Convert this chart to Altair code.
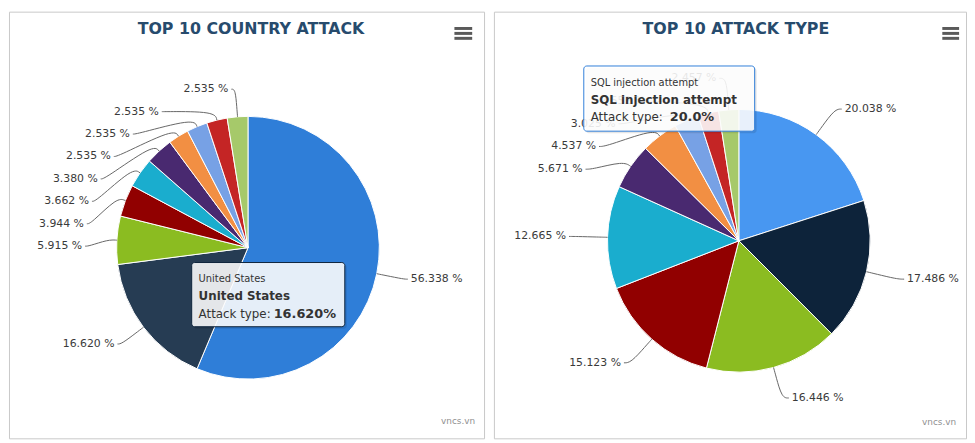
import math
import altair as alt
import pandas as pd

# ---------------- data ----------------
country_names = ["Country 1", "United States", "Country 3", "Country 4", "Country 5",
                 "Country 6", "Country 7", "Country 8", "Country 9", "Country 10"]
country_share = [56.338, 16.620, 5.915, 3.944, 3.662, 3.380, 2.535, 2.535, 2.535, 2.535]

attack_names = ["SQL injection attempt", "Attack 2", "Attack 3", "Attack 4", "Attack 5",
                "Attack 6", "Attack 7", "Attack 8", "Attack 9", "Attack 10"]
attack_share = [20.038, 17.486, 16.446, 15.123, 12.665, 5.671, 4.537, 3.025, 2.552, 2.457]

titles = ["TOP 10 COUNTRY ATTACK", "TOP 10 ATTACK TYPE"]
tip_left = ["United States", "United States", "Attack type: ", "16.620%"]
tip_right = ["SQL injection attempt", "SQL injection attempt", "Attack type: ", "20.0%"]
credit = "vncs.vn"

palette = ["#2f7ed8", "#0d233a", "#8bbc21", "#910000", "#1aadce",
           "#492970", "#f28f43", "#77a1e5", "#c42525", "#a6c96a"]
colors_left = list(palette)
colors_left[1] = "#263c53"     # hovered slice (brightened)
colors_right = list(palette)
colors_right[0] = "#4897f1"    # hovered slice (brightened)

# ---------------- layout ----------------
H = 432
W_LEFT, W_RIGHT = 481, 478
FONT = "DejaVu Sans"


def xq(W, field="x"):
    return alt.X(f"{field}:Q", scale=alt.Scale(domain=[0, W], nice=False, zero=False), axis=None)


def yq(field="y"):
    return alt.Y(f"{field}:Q", scale=alt.Scale(domain=[0, H], nice=False, zero=False, reverse=True),
                 axis=None)


def label_layout(values, cx, cy, r, dist, gap, spacing):
    total = sum(values)
    R = r + dist
    pts = []
    cum = 0.0
    for i, v in enumerate(values):
        a = (cum + v / 2.0) / total * 2 * math.pi
        cum += v
        s, c = math.sin(a), math.cos(a)
        pts.append(dict(i=i, left=s < 0, ny=cy - R * c,
                        ex=cx + r * s, ey=cy - r * c,
                        bx=cx + (r + 9) * s, by=cy - (r + 9) * c,
                        text=f"{v:.3f} %"))
    for side in (True, False):
        group = sorted([p for p in pts if p["left"] == side], key=lambda p: p["ny"])
        prev = -1e9
        for p in group:
            p["ly"] = max(p["ny"], prev + spacing)
            prev = p["ly"]
    for p in pts:
        dy = p["ly"] - cy
        dx = math.sqrt(max(0.0, R * R - dy * dy))
        sign = -1 if p["left"] else 1
        p["ax"] = cx + sign * dx
        p["tx"] = p["ax"] + sign * gap
        p["px"] = p["ax"] + sign * (gap - 3)
    return pts


def panel(names, values, colors, title, tip, W, geo, tipgeo, burger_x, credit_xy):
    cx, cy, r, dist, gap, spacing = geo
    slices = pd.DataFrame({"name": names, "value": values, "idx": list(range(len(values)))})
    arcs = alt.Chart(slices).mark_arc(outerRadius=r, stroke="white", strokeWidth=1).encode(
        theta=alt.Theta("value:Q", stack=True),
        color=alt.Color("name:N", scale=alt.Scale(domain=names, range=colors), legend=None),
        order=alt.Order("idx:Q"),
        x=alt.value(cx), y=alt.value(cy),
    )

    pts = label_layout(values, cx, cy, r, dist, gap, spacing)
    conn_rows = []
    for p in pts:
        seq = [(p["px"], p["ly"]), (p["ax"], p["ly"]), (p["bx"], p["by"]), (p["ex"], p["ey"])]
        for k, (x, y) in enumerate(seq):
            conn_rows.append({"id": p["i"], "k": k, "x": x, "y": y})
    conn = alt.Chart(pd.DataFrame(conn_rows)).mark_line(
        interpolate="basis", color="#666666", strokeWidth=1).encode(
        x=xq(W), y=yq(), detail="id:N", order="k:Q")

    lab_df = pd.DataFrame([{"x": p["tx"], "y": p["ly"], "t": p["text"], "left": p["left"]} for p in pts])
    lab_l = alt.Chart(lab_df[lab_df["left"]]).mark_text(
        align="right", baseline="middle", font=FONT, fontSize=11, color="#3a3a3a").encode(
        x=xq(W), y=yq(), text="t:N")
    lab_r = alt.Chart(lab_df[~lab_df["left"]]).mark_text(
        align="left", baseline="middle", font=FONT, fontSize=11, color="#3a3a3a").encode(
        x=xq(W), y=yq(), text="t:N")

    # tooltip overlay
    tx0, tx1, ty0, ty1, tborder, val_x = tipgeo
    shadow = alt.Chart(pd.DataFrame({"x": [tx0 + 2], "x2": [tx1 + 2], "y": [ty0 + 2], "y2": [ty1 + 2]})).mark_rect(
        cornerRadius=3, color="#000000", opacity=0.10).encode(
        x=xq(W), x2="x2:Q", y=yq(), y2="y2:Q")
    box = alt.Chart(pd.DataFrame({"x": [tx0], "x2": [tx1], "y": [ty0], "y2": [ty1]})).mark_rect(
        cornerRadius=3, fill="#ffffff", fillOpacity=0.88, stroke=tborder, strokeWidth=1).encode(
        x=xq(W), x2="x2:Q", y=yq(), y2="y2:Q")
    lx = tx0 + 7
    t1 = alt.Chart(pd.DataFrame({"x": [lx], "y": [ty0 + 17], "t": [tip[0]]})).mark_text(
        align="left", baseline="middle", font=FONT, fontSize=10, color="#333333").encode(
        x=xq(W), y=yq(), text="t:N")
    t2 = alt.Chart(pd.DataFrame({"x": [lx], "y": [ty0 + 34], "t": [tip[1]]})).mark_text(
        align="left", baseline="middle", font=FONT, fontSize=12, fontWeight="bold", color="#333333").encode(
        x=xq(W), y=yq(), text="t:N")
    t3 = alt.Chart(pd.DataFrame({"x": [lx], "y": [ty0 + 52], "t": [tip[2]]})).mark_text(
        align="left", baseline="middle", font=FONT, fontSize=12, color="#333333").encode(
        x=xq(W), y=yq(), text="t:N")
    t4 = alt.Chart(pd.DataFrame({"x": [val_x], "y": [ty0 + 52], "t": [tip[3]]})).mark_text(
        align="left", baseline="middle", font=FONT, fontSize=13, fontWeight="bold", color="#333333").encode(
        x=xq(W), y=yq(), text="t:N")

    ttl = alt.Chart(pd.DataFrame({"x": [245], "y": [18], "t": [title]})).mark_text(
        align="center", baseline="middle", font=FONT, fontSize=16, fontWeight="bold", color="#274b6d").encode(
        x=xq(W), y=yq(), text="t:N")

    bx0, bx1 = burger_x
    burger = alt.Chart(pd.DataFrame({"x": [bx0] * 3, "x2": [bx1] * 3, "y": [17, 22, 27]})).mark_rule(
        color="#5a5a5a", strokeWidth=3).encode(x=xq(W), x2="x2:Q", y=yq())

    cr = alt.Chart(pd.DataFrame({"x": [credit_xy[0]], "y": [credit_xy[1]], "t": [credit]})).mark_text(
        align="right", baseline="middle", font=FONT, fontSize=9, color="#909090").encode(
        x=xq(W), y=yq(), text="t:N")

    return alt.layer(arcs, conn, lab_l, lab_r, shadow, box, t1, t2, t3, t4, ttl, burger, cr).properties(
        width=W, height=H)


left = panel(country_names, country_share, colors_left, titles[0], tip_left, W_LEFT,
             geo=(242, 239, 133, 28, 7, 22.7),
             tipgeo=(185, 340, 254, 319, "#0d233a", 268),
             burger_x=(451, 469), credit_xy=(472, 414))
right = panel(attack_names, attack_share, colors_right, titles[1], tip_right, W_RIGHT,
              geo=(248, 232, 133, 32, 10, 23.0),
              tipgeo=(91, 264, 55, 121, "#2f7ed8", 178),
              burger_x=(454, 471), credit_xy=(468, 415))

chart = alt.hconcat(left, right, spacing=8).resolve_scale(
    color="independent", theta="independent", x="independent", y="independent"
).properties(padding=0, background="white").configure_view(stroke="#c8c8c8", strokeWidth=1)

chart.save("out.html", embed_options={"renderer": "svg", "actions": False})
